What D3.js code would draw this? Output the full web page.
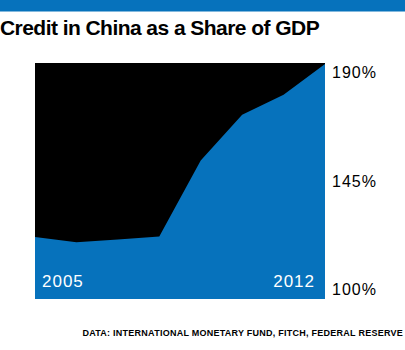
<!DOCTYPE html>
<html>
<head>
<meta charset="utf-8">
<script src="https://cdn.jsdelivr.net/npm/d3@7"></script>
<style>
  html, body { margin: 0; padding: 0; background: #fff; }
  svg { display: block; }
</style>
</head>
<body>
<svg id="chart" width="405" height="350"></svg>
<script>
const years = [2005, 2006, 2007, 2008, 2009, 2010, 2011, 2012];
const creditShare = [121.7, 119.6, 120.7, 122.0, 153.5, 172.5, 180.8, 193.6];
const yTicks = [100, 145, 190];
const yearLabels = [2005, 2012];
const title = "Credit in China as a Share of GDP";
const source = "DATA: INTERNATIONAL MONETARY FUND, FITCH, FEDERAL RESERVE";

const W = 405, H = 350;
const plot = { left: 35, right: 325, top: 63, bottom: 299 };
const blue = "#0672bc";

const svg = d3.select("#chart");

svg.append("rect").attr("x", 0).attr("y", 0).attr("width", W).attr("height", 11.5).attr("fill", blue);

svg.append("text")
  .attr("x", 0).attr("y", 35)
  .attr("font-family", "Liberation Sans, Arial, sans-serif")
  .attr("font-weight", "bold")
  .attr("font-size", 21)
  .attr("letter-spacing", -0.55)
  .attr("fill", "#000")
  .text(title);

const x = d3.scaleLinear().domain(d3.extent(years)).range([plot.left, plot.right]);
const y = d3.scaleLinear().domain([96, 194]).range([plot.bottom, plot.top]);

svg.append("rect")
  .attr("x", plot.left).attr("y", plot.top)
  .attr("width", plot.right - plot.left).attr("height", plot.bottom - plot.top)
  .attr("fill", "#000");

const data = years.map((yr, i) => ({ yr, v: creditShare[i] }));
const area = d3.area()
  .x(d => x(d.yr))
  .y0(plot.bottom)
  .y1(d => Math.max(plot.top, y(d.v)));

svg.append("path").datum(data).attr("d", area).attr("fill", blue);

// right axis labels
const axis = d3.axisRight(y).tickValues(yTicks).tickSize(0).tickPadding(7).tickFormat(d => d + "%");
const gAxis = svg.append("g").attr("transform", `translate(${plot.right},0)`).call(axis);
gAxis.select(".domain").remove();
gAxis.selectAll("text")
  .attr("font-family", "Liberation Sans, Arial, sans-serif")
  .attr("font-size", 16)
  .attr("letter-spacing", 1)
  .attr("fill", "#000");

// year labels inside area
svg.selectAll(".yl").data(yearLabels).enter().append("text")
  .attr("class", "yl")
  .attr("x", d => d === yearLabels[0] ? x(d) + 7 : x(d) - 10)
  .attr("y", 287)
  .attr("text-anchor", d => d === yearLabels[0] ? "start" : "end")
  .attr("font-family", "Liberation Sans, Arial, sans-serif")
  .attr("font-size", 17)
  .attr("letter-spacing", 1)
  .attr("fill", "#fff")
  .text(d => d);

svg.append("text")
  .attr("x", 403).attr("y", 336)
  .attr("text-anchor", "end")
  .attr("font-family", "Liberation Sans, Arial, sans-serif")
  .attr("font-weight", "bold")
  .attr("font-size", 9)
  .attr("letter-spacing", 0.25)
  .attr("fill", "#000")
  .text(source);
</script>
</body>
</html>
